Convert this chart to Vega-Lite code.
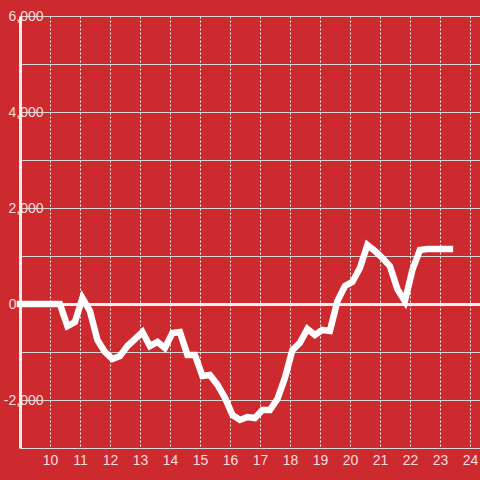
{
  "$schema": "https://vega.github.io/schema/vega-lite/v6.json",
  "width": 460,
  "height": 432,
  "autosize": {"type": "none"},
  "padding": {"left": 20, "top": 16, "right": 0, "bottom": 32},
  "background": "#cc2a2f",
  "config": {
    "view": {"stroke": null},
    "axis": {"labelFont": "Liberation Sans", "labelFontSize": 14, "labelColor": "#f4dede"}
  },
  "data": {
    "values": [
      {"t": 9.0, "v": 0}, {"t": 9.33, "v": 0}, {"t": 9.58, "v": 0}, {"t": 9.83, "v": 0},
      {"t": 10.08, "v": 0}, {"t": 10.33, "v": 0}, {"t": 10.58, "v": -460}, {"t": 10.83, "v": -375},
      {"t": 11.08, "v": 125}, {"t": 11.33, "v": -145}, {"t": 11.58, "v": -750}, {"t": 11.83, "v": -1000},
      {"t": 12.08, "v": -1145}, {"t": 12.33, "v": -1085}, {"t": 12.58, "v": -875}, {"t": 12.83, "v": -730},
      {"t": 13.08, "v": -585}, {"t": 13.33, "v": -875}, {"t": 13.58, "v": -790}, {"t": 13.83, "v": -915},
      {"t": 14.08, "v": -605}, {"t": 14.33, "v": -585}, {"t": 14.58, "v": -1060}, {"t": 14.83, "v": -1060},
      {"t": 15.08, "v": -1500}, {"t": 15.33, "v": -1480}, {"t": 15.58, "v": -1680}, {"t": 15.83, "v": -1950},
      {"t": 16.08, "v": -2310}, {"t": 16.33, "v": -2415}, {"t": 16.58, "v": -2355}, {"t": 16.83, "v": -2375},
      {"t": 17.08, "v": -2210}, {"t": 17.33, "v": -2210}, {"t": 17.58, "v": -1980}, {"t": 17.83, "v": -1540},
      {"t": 18.08, "v": -960}, {"t": 18.33, "v": -810}, {"t": 18.58, "v": -520}, {"t": 18.83, "v": -645},
      {"t": 19.08, "v": -540}, {"t": 19.33, "v": -560}, {"t": 19.58, "v": 60}, {"t": 19.83, "v": 375},
      {"t": 20.08, "v": 460}, {"t": 20.33, "v": 750}, {"t": 20.58, "v": 1230}, {"t": 20.83, "v": 1105},
      {"t": 21.08, "v": 960}, {"t": 21.33, "v": 790}, {"t": 21.58, "v": 310}, {"t": 21.83, "v": 60},
      {"t": 22.08, "v": 710}, {"t": 22.33, "v": 1125}, {"t": 22.58, "v": 1145}, {"t": 22.83, "v": 1145},
      {"t": 23.08, "v": 1145}, {"t": 23.33, "v": 1145}
    ]
  },
  "mark": {"type": "line", "color": "#ffffff", "strokeWidth": 6.5, "strokeJoin": "miter", "strokeCap": "square", "clip": false},
  "encoding": {
    "x": {
      "field": "t", "type": "quantitative",
      "scale": {"domain": [9, 24.3333], "nice": false, "zero": false},
      "axis": {
        "title": null,
        "values": [10, 11, 12, 13, 14, 15, 16, 17, 18, 19, 20, 21, 22, 23, 24],
        "format": "d",
        "ticks": false,
        "labelPadding": 5,
        "domain": true, "domainColor": "#d9d9d9", "domainWidth": 1,
        "grid": true, "gridColor": "#f2f2f2", "gridDash": [2, 2], "gridWidth": 1
      }
    },
    "y": {
      "field": "v", "type": "quantitative",
      "scale": {"domain": [-3000, 6000], "nice": false},
      "axis": {
        "title": null,
        "values": [-3000, -2000, -1000, 0, 1000, 2000, 3000, 4000, 5000, 6000],
        "labelExpr": "datum.value % 2000 == 0 ? replace(format(datum.value, ','), '\u2212', '-') : ''",
        "ticks": false,
        "labelAlign": "right",
        "labelBaseline": "middle",
        "labelPadding": {"condition": {"test": "datum.value == 0", "value": 4}, "value": -23},
        "domain": true, "domainColor": "#eeeeee", "domainWidth": 3,
        "grid": true,
        "gridColor": {"condition": {"test": "datum.value == 0", "value": "#f2f2f2"}, "value": "#d6d6d6"},
        "gridWidth": {"condition": {"test": "datum.value == 0", "value": 3}, "value": 1}
      }
    }
  }
}
